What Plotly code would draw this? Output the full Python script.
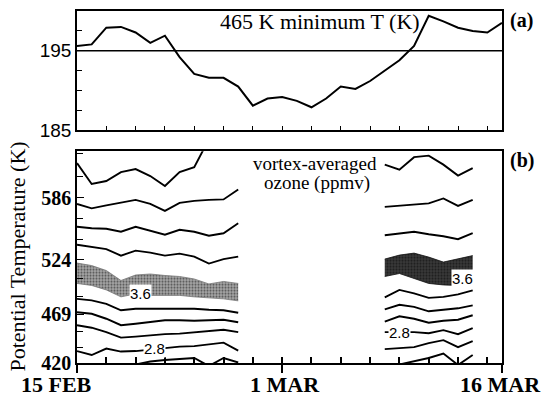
import plotly.graph_objects as go

# ---------------- data ----------------
# days counted from 15 Feb (0 = 15 FEB, 14 = 1 MAR, 29 = 16 MAR)
temp_days = list(range(30))
min_temp_465K = [195.6, 195.8, 197.9, 198.0, 197.3, 196.0, 196.9, 194.2, 192.1, 191.6,
                 191.6, 190.5, 188.1, 189.0, 189.2, 188.7, 187.9, 189.0, 190.5, 190.2,
                 191.2, 192.5, 193.8, 195.6, 199.4, 198.7, 197.9, 197.5, 197.3, 198.5]
threshold_T = 195

date_tick_days = [0, 14, 29]
date_tick_text = ["15 FEB", "1 MAR", "16 MAR"]

theta_ticks = [420, 469, 524, 586]
theta_minor_ticks = [436, 452, 487, 505, 544, 565, 608, 631]

# ozone contour positions (potential temperature, K) per day
left_days = list(range(0, 12))
left_contours = [
    [621, 600, 603, 612, 615, 608, 598, 612, 617, 645, None, None],
    [580, 575.5, 578.5, 581, 584, 580, 573, 581, 583, 584, 584.5, 594.5],
    [557, 555.5, 555, 552, 557, 553, 549, 554, 552, 548, 550.5, 560.5],
    [539, 537, 534.5, 528, 533, 531, 528, 530, 527, 520, 524.5, 527],
    [484.5, 483, 479.5, 473, 474.5, 474.5, 474.5, 474.5, 474.5, 473.5, 473, 470.5],
    [471, 469.5, 464.5, 458, 459.5, 461, 463, 463, 462.5, 463, 463.5, 461],
    [458, 455.5, 451, 445.5, 446.5, 448, 449, 449.5, 451, 452, 453.5, 451],
    [432, 428, 434.5, 431.5, 432, 433.5, 435.5, 436.5, 437, 439, 440.5, 432.5],
    [None, None, None, None, 418.5, 421.5, 423, 424, 425, 417, 425, 420.5],
]
left_band_top = [520.5, 518, 513, 503, 508.5, 509.5, 508, 507, 504.5, 499.5, 502, 500]
left_band_bottom = [500, 498, 493.5, 486.5, 489.5, 488, 488, 488, 486.5, 485.5, 484.5, 482.5]

right_days = list(range(21, 28))
right_contours = [
    [619.5, 614.5, 627, 628.5, 619.5, 608.5, 616],
    [577, 578, 579.5, 580.5, 585.5, 578, 584],
    [548.5, 550.5, 552, 549.5, 547.5, 544.5, 550.5],
    [486, 493.5, 490, 485.5, 486.5, 489, 493],
    [474, 478.5, 476.5, 472, 473.5, 475, 478],
    [461.5, 467, 464.5, 460.5, 462.5, 463.5, 468],
    [451, 451, 451, 450, 453, 449, 455],
    [434, 435, 436, 440, 443, 436, 442],
    [None, 418.5, 421.5, 425, 429.5, 418, 428],
]
right_band_top = [524.5, 528.5, 530.5, 526.5, 521.5, 524.5, 528]
right_band_bottom = [507, 510, 505, 500, 498.5, 498, 499]

# contour labels: (day, theta, text)
contour_labels = [(4.3, 490, "3.6"), (5.3, 435, "2.8"), (26.3, 505, "3.6"), (22.0, 451, "2.8")]

# ---------------- figure ----------------
SERIF = "Liberation Serif"
SANS = "Liberation Sans"
fig = go.Figure()

fig.add_trace(go.Scatter(x=temp_days, y=min_temp_465K, mode="lines",
                         line=dict(color="black", width=2), xaxis="x", yaxis="y",
                         showlegend=False))

def add_band(days, bottom, top, bg, edge):
    fig.add_trace(go.Scatter(x=days, y=bottom, mode="lines", line=dict(color=edge, width=0.8),
                             xaxis="x2", yaxis="y2", showlegend=False))
    fig.add_trace(go.Scatter(x=days, y=top, mode="lines", line=dict(color=edge, width=0.8),
                             fill="tonexty", fillcolor=bg,
                             fillpattern=dict(shape=".", fgcolor="black", bgcolor=bg,
                                              size=3, solidity=0.4),
                             xaxis="x2", yaxis="y2", showlegend=False))

add_band(left_days, left_band_bottom, left_band_top, "#a8a8a8", "#777")
add_band(right_days, right_band_bottom, right_band_top, "#3a3a3a", "#111")

for days, sets in ((left_days, left_contours), (right_days, right_contours)):
    for c in sets:
        fig.add_trace(go.Scatter(x=days, y=c, mode="lines", connectgaps=False,
                                 line=dict(color="black", width=1.9),
                                 xaxis="x2", yaxis="y2", showlegend=False))

fig.add_shape(type="line", xref="x domain", yref="y", x0=0, x1=1,
              y0=threshold_T, y1=threshold_T, line=dict(color="black", width=1.5))

axis_common = dict(showline=True, linecolor="black", linewidth=1.5, mirror=True,
                   showgrid=False, zeroline=False)

fig.update_layout(
    width=542, height=396,
    margin=dict(l=77, r=40, t=9, b=33),
    paper_bgcolor="white", plot_bgcolor="white",
    xaxis=dict(domain=[0, 1], range=[0, 29], anchor="y",
               tickmode="array", tickvals=list(range(0, 30, 2)), ticks="inside",
               ticklen=5, tickcolor="black", showticklabels=False, **axis_common),
    yaxis=dict(domain=[0.661, 1.0], range=[185, 200], anchor="x",
               tickmode="array", tickvals=[185, 195], ticks="inside", ticklen=5,
               tickcolor="black", tickfont=dict(family=SANS, size=19, color="black"),
               minor=dict(ticks="inside", tickmode="array", tickvals=[187.5, 190, 192.5, 197.5],
                          ticklen=5, tickcolor="black"),
               **axis_common),
    xaxis2=dict(domain=[0, 1], range=[0, 29], anchor="y2",
                tickmode="array", tickvals=date_tick_days, ticks="outside", ticklen=8,
                tickcolor="black", tickwidth=1.5, showticklabels=False,
                minor=dict(ticks="inside", tickmode="array", tickvals=list(range(2, 29, 2)),
                           ticklen=6, tickcolor="black"),
                **axis_common),
    yaxis2=dict(domain=[0, 0.6017], range=[420, 633], anchor="x2",
                tickmode="array", tickvals=theta_ticks, ticktext=[str(t) for t in theta_ticks],
                ticks="inside", ticklen=7, tickcolor="black",
                tickfont=dict(family=SERIF, size=20, color="black", weight="bold"),
                minor=dict(ticks="inside", tickmode="array", tickvals=theta_minor_ticks,
                           ticklen=6, tickcolor="black"),
                **axis_common),
)

ann = []
ann.append(dict(text="465 K minimum T (K)", xref="paper", yref="paper", x=0.572, y=0.969,
                showarrow=False, font=dict(family=SERIF, size=22, color="black"),
                xanchor="center", yanchor="middle"))
ann.append(dict(text="(a)", xref="paper", yref="paper", x=1.015, y=0.972, showarrow=False,
                font=dict(family=SERIF, size=20, color="black", weight="bold"),
                xanchor="left", yanchor="middle"))
ann.append(dict(text="(b)", xref="paper", yref="paper", x=1.015, y=0.575, showarrow=False,
                font=dict(family=SERIF, size=20, color="black", weight="bold"),
                xanchor="left", yanchor="middle"))
ann.append(dict(text="vortex-averaged", xref="paper", yref="paper", x=0.56, y=(363 - 162) / 354,
                showarrow=False, font=dict(family=SERIF, size=19, color="black"),
                xanchor="center", yanchor="middle"))
ann.append(dict(text="ozone (ppmv)", xref="paper", yref="paper", x=0.565, y=(363 - 182) / 354,
                showarrow=False, font=dict(family=SERIF, size=19, color="black"),
                xanchor="center", yanchor="middle"))
ann.append(dict(text="Potential Temperature (K)", xref="paper", yref="paper",
                x=(18 - 77) / 425, y=(363 - 256) / 354, textangle=-90, showarrow=False,
                font=dict(family=SERIF, size=22, color="black"),
                xanchor="center", yanchor="middle"))
shifts = {"15 FEB": -21, "1 MAR": 3, "16 MAR": -2}
for d, t in zip(date_tick_days, date_tick_text):
    ann.append(dict(text=t, xref="x2", yref="paper", x=d, y=(363 - 385) / 354,
                    xshift=shifts[t], showarrow=False,
                    font=dict(family=SERIF, size=22, color="black", weight="bold"),
                    xanchor="center", yanchor="middle"))
for d, th, t in contour_labels:
    ann.append(dict(text=t, xref="x2", yref="y2", x=d, y=th, showarrow=False,
                    bgcolor="white", borderpad=0,
                    font=dict(family=SANS, size=15, color="black")))
fig.update_layout(annotations=ann)

fig.write_html("out.html")
